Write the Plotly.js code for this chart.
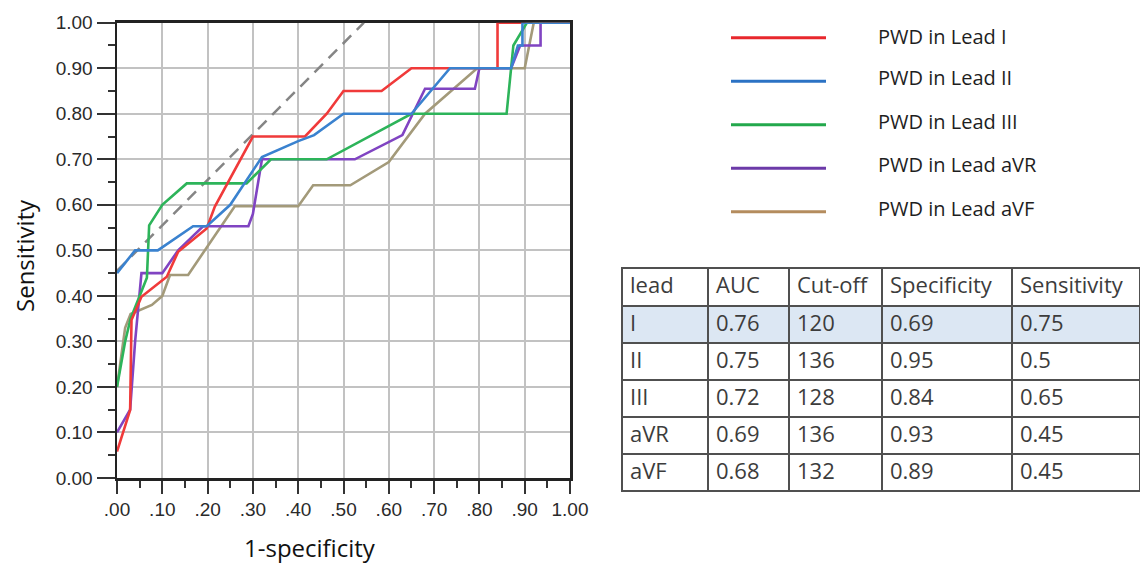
<!DOCTYPE html>
<html>
<head>
<meta charset="utf-8">
<script src="https://cdn.plot.ly/plotly-3.0.1.min.js"></script>
<style>
  html, body { margin: 0; padding: 0; background: #fff; }
  #chart { width: 1140px; height: 567px; }
</style>
</head>
<body>
<div id="chart"></div>
<script>
// ROC curves of P-wave duration (PWD) per ECG lead
const seriesNames = ['PWD in Lead I', 'PWD in Lead II', 'PWD in Lead III', 'PWD in Lead aVR', 'PWD in Lead aVF'];

const leadI_fpr   = [0, 0.029, 0.032, 0.054, 0.11, 0.135, 0.198, 0.216, 0.30, 0.415, 0.463, 0.50, 0.584, 0.65, 0.84, 0.84, 1];
const leadI_tpr   = [0.058, 0.149, 0.347, 0.398, 0.442, 0.497, 0.548, 0.596, 0.75, 0.75, 0.80, 0.85, 0.85, 0.90, 0.90, 1.0, 1.0];

const leadII_fpr  = [0, 0.04, 0.09, 0.168, 0.198, 0.25, 0.32, 0.40, 0.435, 0.50, 0.65, 0.735, 0.87, 0.885, 0.895, 0.895, 1];
const leadII_tpr  = [0.45, 0.50, 0.50, 0.553, 0.553, 0.60, 0.705, 0.74, 0.753, 0.80, 0.80, 0.90, 0.90, 0.95, 0.95, 1.0, 1.0];

const leadIII_fpr = [0, 0.018, 0.03, 0.066, 0.071, 0.10, 0.154, 0.286, 0.34, 0.463, 0.65, 0.86, 0.87, 0.875, 0.905, 1];
const leadIII_tpr = [0.20, 0.30, 0.35, 0.44, 0.555, 0.60, 0.647, 0.647, 0.70, 0.70, 0.80, 0.80, 0.90, 0.95, 1.0, 1.0];

const aVR_fpr     = [0, 0.029, 0.04, 0.054, 0.10, 0.135, 0.19, 0.29, 0.30, 0.32, 0.525, 0.63, 0.68, 0.79, 0.80, 0.87, 0.89, 0.935, 0.935, 1];
const aVR_tpr     = [0.10, 0.15, 0.30, 0.45, 0.45, 0.50, 0.553, 0.553, 0.58, 0.70, 0.70, 0.753, 0.855, 0.855, 0.90, 0.90, 0.95, 0.95, 1.0, 1.0];

const aVF_fpr     = [0, 0.018, 0.03, 0.077, 0.10, 0.117, 0.157, 0.26, 0.40, 0.433, 0.515, 0.60, 0.68, 0.795, 0.90, 0.92, 1];
const aVF_tpr     = [0.20, 0.33, 0.36, 0.38, 0.40, 0.446, 0.446, 0.597, 0.597, 0.643, 0.643, 0.694, 0.80, 0.90, 0.90, 1.0, 1.0];

// reference diagonal
const refLine_x = [0, 0.545];
const refLine_y = [0.455, 1.0];

// axis tick labels
const xTickVals = [0, 0.1, 0.2, 0.3, 0.4, 0.5, 0.6, 0.7, 0.8, 0.9, 1.0];
const xTickText = ['.00', '.10', '.20', '.30', '.40', '.50', '.60', '.70', '.80', '.90', '1.00'];
const yTickVals = [0, 0.1, 0.2, 0.3, 0.4, 0.5, 0.6, 0.7, 0.8, 0.9, 1.0];
const yTickText = ['0.00', '0.10', '0.20', '0.30', '0.40', '0.50', '0.60', '0.70', '0.80', '0.90', '1.00'];

// summary table
const tableHeader = ['lead', 'AUC', 'Cut-off', 'Specificity', 'Sensitivity'];
const leads       = ['I', 'II', 'III', 'aVR', 'aVF'];
const auc         = [0.76, 0.75, 0.72, 0.69, 0.68];
const cutoff      = [120, 136, 128, 136, 132];
const specificity = [0.69, 0.95, 0.84, 0.93, 0.89];
const sensitivity = [0.75, 0.5, 0.65, 0.45, 0.45];

// styling
const lineColors = ['#f03a3a', '#3a82cf', '#2db45a', '#8044c2', '#a39a7a'];
const keyColors  = ['#e8282d', '#2b72c4', '#23a84c', '#6c3aa8', '#b48c5e'];
const W = 1140, H = 567;
const px = v => v / W;
const py = v => 1 - v / H;

const curves = [
  [leadI_fpr, leadI_tpr],
  [leadII_fpr, leadII_tpr],
  [leadIII_fpr, leadIII_tpr],
  [aVR_fpr, aVR_tpr],
  [aVF_fpr, aVF_tpr]
];
const drawOrder = [4, 3, 2, 0, 1];

const traces = [{
  type: 'scatter', mode: 'lines',
  x: refLine_x, y: refLine_y,
  line: { color: '#858585', width: 2.5, dash: '12px,8px' },
  showlegend: false, hoverinfo: 'skip', cliponaxis: false
}];
drawOrder.forEach(i => {
  traces.push({
    type: 'scatter', mode: 'lines',
    name: seriesNames[i],
    x: curves[i][0], y: curves[i][1],
    line: { color: lineColors[i], width: 2.6 },
    showlegend: false, cliponaxis: false
  });
});

const fmt = arr => arr.map(v => String(v));
const rowFill = leads.map((_, r) => r === 0 ? '#dce7f3' : '#ffffff');
const tableFont = { family: 'Open Sans, sans-serif', size: 22, color: '#3c3c3c' };
traces.push({
  type: 'table',
  domain: { x: [px(622), 1], y: [py(494), py(268)] },
  columnwidth: [86, 81, 93, 130, 128],
  header: {
    values: tableHeader,
    align: 'left',
    height: 38,
    fill: { color: '#ffffff' },
    line: { color: '#505050', width: 2 },
    font: tableFont
  },
  cells: {
    values: [leads, fmt(auc), fmt(cutoff), fmt(specificity), fmt(sensitivity)],
    align: 'left',
    height: 37,
    fill: { color: [rowFill, rowFill, rowFill, rowFill, rowFill] },
    line: { color: '#505050', width: 2 },
    font: tableFont
  }
});

const axisCommon = {
  range: [0, 1],
  fixedrange: true,
  showline: true, linecolor: '#222222', linewidth: 2.5, mirror: true,
  showgrid: true, gridcolor: '#c2c2c2', gridwidth: 2,
  zeroline: false,
  ticks: 'outside', tickcolor: '#333333', tickwidth: 2,
  tickmode: 'array',
  tickfont: { family: 'Liberation Sans, Arial, sans-serif', size: 19, color: '#2a2a2a' },
  layer: 'below traces'
};
const minorVals = xTickVals.slice(0, -1).map((v, i) => (v + xTickVals[i + 1]) / 2);

const shapes = [];
const annotations = [];
seriesNames.forEach((name, i) => {
  const ly = 37.7 + 43.5 * i;
  shapes.push({
    type: 'line', xref: 'paper', yref: 'paper',
    x0: px(731), x1: px(826), y0: py(ly), y1: py(ly),
    line: { color: keyColors[i], width: 3 }
  });
  annotations.push({
    xref: 'paper', yref: 'paper', x: px(876), y: py(ly - (i === 0 ? 1 : 3.5)),
    xanchor: 'left', yanchor: 'middle', showarrow: false,
    text: name,
    font: { family: 'Open Sans, sans-serif', size: 20, color: '#1e1e1e' }
  });
});
annotations.push({
  xref: 'paper', yref: 'paper', x: px(24), y: py(256),
  xanchor: 'center', yanchor: 'middle', showarrow: false, textangle: -90,
  text: 'Sensitivity',
  font: { family: 'Open Sans, sans-serif', size: 24, color: '#111111' }
});
annotations.push({
  xref: 'paper', yref: 'paper', x: px(310), y: py(547),
  xanchor: 'center', yanchor: 'middle', showarrow: false,
  text: '1-specificity',
  font: { family: 'Open Sans, sans-serif', size: 24, color: '#111111' }
});

const layout = {
  width: W, height: H,
  margin: { l: 0, r: 0, t: 0, b: 0 },
  paper_bgcolor: '#ffffff', plot_bgcolor: '#ffffff',
  showlegend: false,
  xaxis: Object.assign({}, axisCommon, {
    domain: [px(117), px(570)],
    tickvals: xTickVals, ticktext: xTickText, ticklen: 13,
    minor: { tickvals: minorVals, ticks: 'outside', ticklen: 7, tickwidth: 2, tickcolor: '#333333', showgrid: false }
  }),
  yaxis: Object.assign({}, axisCommon, {
    domain: [py(478), py(22.7)],
    tickvals: yTickVals, ticktext: yTickText, ticklen: 18,
    minor: { tickvals: minorVals, ticks: 'outside', ticklen: 7, tickwidth: 2, tickcolor: '#333333', showgrid: false }
  }),
  shapes: shapes,
  annotations: annotations
};

Plotly.newPlot('chart', traces, layout, { staticPlot: true, displayModeBar: false });
</script>
</body>
</html>
